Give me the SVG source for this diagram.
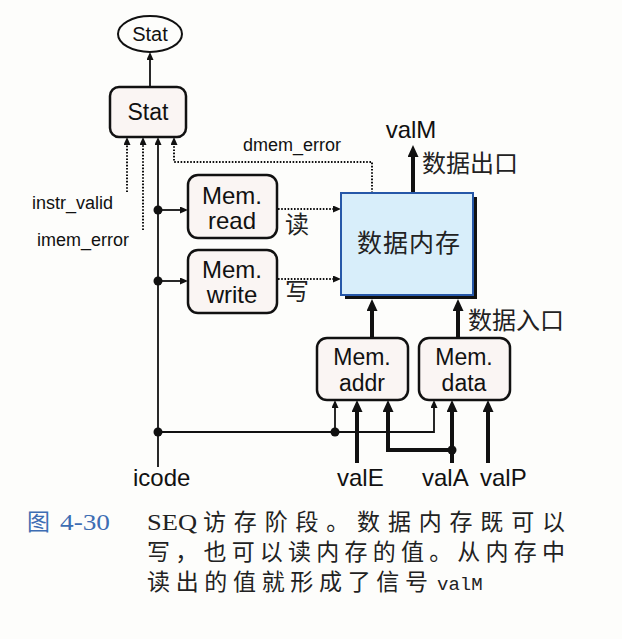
<svg xmlns="http://www.w3.org/2000/svg" width="622" height="639" viewBox="0 0 622 639">
<defs>
<marker id="ah" markerUnits="userSpaceOnUse" markerWidth="9" markerHeight="8" refX="0" refY="3.5" orient="auto">
<path d="M0,0 L8,3.5 L0,7 z" fill="#111"/>
</marker>
<marker id="ahb" markerUnits="userSpaceOnUse" markerWidth="13" markerHeight="12" refX="0" refY="5.5" orient="auto">
<path d="M0,0 L12,5.5 L0,11 z" fill="#111"/>
</marker>
</defs>
<style>
.box{fill:#faf5f3;stroke:#111;stroke-width:2.5}
.t{font-family:"Liberation Sans",Arial,"Noto Sans CJK SC",sans-serif;fill:#111}
.c{font-family:"Liberation Serif","Noto Sans CJK SC",serif;fill:#222}
.thin{fill:none;stroke:#111;stroke-width:1.8;marker-end:url(#ah)}
.dot{fill:none;stroke:#111;stroke-width:2;stroke-dasharray:1.6,1.6;marker-end:url(#ah)}
.thick{fill:none;stroke:#111;stroke-width:4;marker-end:url(#ahb)}
.j{fill:#111}
.blue{fill:#3d6db3}
</style>
<rect x="0" y="0" width="622" height="639" fill="#fdfdfb"/>

<g id="connectors">
<path class="thin" d="M150,87 V60"/>
<path class="dot" d="M127,192 V145"/>
<path class="dot" d="M143,230 V145"/>
<path class="thin" d="M158,467 V145"/>
<path class="dot" d="M372,193 V162 H174 V145"/>
<path class="thin" d="M158,210 H180"/>
<path class="thin" d="M158,281 H180"/>
<path class="dot" d="M278,209 H333"/>
<path class="dot" d="M278,279 H333"/>
<path class="thin" d="M158,432 H434 V408"/>
<path class="thin" d="M335,432 V408"/>
<path class="thick" d="M413,193 V157"/>
<path class="thick" d="M372,338 V311"/>
<path class="thick" d="M458,338 V311"/>
<path class="thick" d="M357,463 V412"/>
<path class="thick" d="M452,463 V412"/>
<path class="thick" d="M452,450 H388 V412"/>
<path class="thick" d="M488,463 V412"/>
<circle class="j" cx="158" cy="210" r="4.5"/>
<circle class="j" cx="158" cy="281" r="4.5"/>
<circle class="j" cx="158" cy="432" r="4.5"/>
<circle class="j" cx="335" cy="432" r="4.5"/>
<circle class="j" cx="452" cy="450" r="4.5"/>
</g>

<g id="stat_out">
<ellipse cx="150" cy="34" rx="32" ry="18" fill="#fdfdfb" stroke="#111" stroke-width="2"/>
<text class="t" x="150" y="41" font-size="20" text-anchor="middle">Stat</text>
</g>

<g id="stat">
<rect class="box" x="110" y="87" width="76" height="50" rx="9"/>
<text class="t" x="148" y="120" font-size="23" text-anchor="middle">Stat</text>
</g>

<g id="mem_read">
<rect class="box" x="188" y="175" width="89" height="63" rx="10"/>
<text class="t" x="232" y="204" font-size="24" text-anchor="middle">Mem.</text>
<text class="t" x="232" y="229" font-size="24" text-anchor="middle">read</text>
</g>

<g id="mem_write">
<rect class="box" x="188" y="250" width="89" height="63" rx="10"/>
<text class="t" x="232" y="278" font-size="24" text-anchor="middle">Mem.</text>
<text class="t" x="232" y="303" font-size="24" text-anchor="middle">write</text>
</g>

<g id="data_memory">
<rect x="345" y="197" width="132" height="102" fill="#111"/>
<rect x="341" y="193" width="132" height="102" fill="#d8eefa" stroke="#2657a8" stroke-width="2"/>
<text class="c" x="409" y="252" font-size="25" text-anchor="middle" letter-spacing="1">数据内存</text>
</g>

<g id="mem_addr">
<rect class="box" x="317" y="338" width="91" height="62" rx="10"/>
<text class="t" x="362" y="365" font-size="23" text-anchor="middle">Mem.</text>
<text class="t" x="362" y="391" font-size="23" text-anchor="middle">addr</text>
</g>

<g id="mem_data">
<rect class="box" x="419" y="338" width="91" height="62" rx="10"/>
<text class="t" x="464" y="365" font-size="23" text-anchor="middle">Mem.</text>
<text class="t" x="464" y="391" font-size="23" text-anchor="middle">data</text>
</g>

<g id="labels">
<text class="t" x="32" y="209" font-size="18">instr_valid</text>
<text class="t" x="37" y="246" font-size="18">imem_error</text>
<text class="t" x="243" y="151" font-size="18">dmem_error</text>
<text class="t" x="411" y="138" font-size="24" text-anchor="middle">valM</text>
<text class="c" x="422" y="172" font-size="24">数据出口</text>
<text class="c" x="468" y="329" font-size="24">数据入口</text>
<text class="c" x="285" y="233" font-size="24">读</text>
<text class="c" x="285" y="300" font-size="24">写</text>
<text class="t" x="133" y="486" font-size="24">icode</text>
<text class="t" x="337" y="486" font-size="24">valE</text>
<text class="t" x="422" y="486" font-size="24">valA</text>
<text class="t" x="480" y="486" font-size="24">valP</text>
</g>

<g id="caption">
<text class="c blue" x="27" y="530" font-size="23" style="fill:#3d6db3">图</text>
<text class="c blue" x="60" y="530" font-size="24" textLength="50" lengthAdjust="spacingAndGlyphs" style="fill:#3d6db3">4-30</text>
<text class="c" x="147" y="530" font-size="23" textLength="50" lengthAdjust="spacingAndGlyphs">SEQ</text>
<text class="c" x="203" y="530" font-size="23" textLength="362" lengthAdjust="spacing">访存阶段。数据内存既可以</text>
<text class="c" x="147" y="560" font-size="23" textLength="418" lengthAdjust="spacing">写，也可以读内存的值。从内存中</text>
<text class="c" x="147" y="590" font-size="23" textLength="281" lengthAdjust="spacing">读出的值就形成了信号</text>
<text x="437" y="590" font-size="19" style="font-family:'Liberation Mono','DejaVu Sans Mono',monospace;fill:#222">valM</text>
</g>
</svg>
